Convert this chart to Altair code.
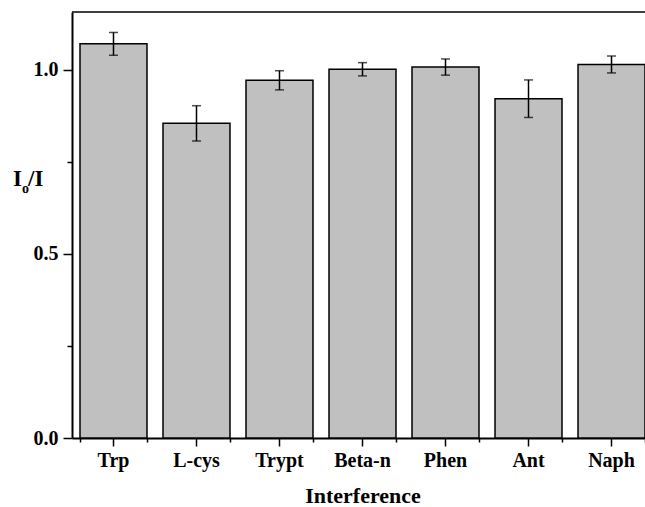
import altair as alt
import pandas as pd

# Relative intensity I0/I for each interfering species, with standard deviations
categories = ["Trp", "L-cys", "Trypt", "Beta-n", "Phen", "Ant", "Naph"]
ratios = [1.071, 0.855, 0.972, 1.002, 1.008, 0.922, 1.015]
errors = [0.031, 0.048, 0.026, 0.018, 0.022, 0.051, 0.023]

df = pd.DataFrame({"cat": categories, "ratio": ratios, "err": errors})
df["lo"] = df["ratio"] - df["err"]
df["hi"] = df["ratio"] + df["err"]

FONT = "Liberation Serif"
W, H = 573, 426

x_scale = alt.Scale(domain=categories, range=[0, 581], paddingInner=0.193, paddingOuter=0.0964)
y_scale = alt.Scale(domain=[0, 1.1576], nice=False, zero=True)

minor = "datum.value == 0.25 || datum.value == 0.75"

x_axis = alt.Axis(
    orient="bottom", title="Interference", labelAngle=0, labelFont=FONT, labelFontSize=20,
    labelFontWeight="bold", labelColor="black", labelPadding=4, titleFont=FONT,
    titleFontSize=22, titleFontWeight="bold", titleColor="black", titlePadding=15,
    domainColor="black", domainWidth=2, tickColor="black", tickWidth=1.5, tickSize=8,
    grid=False,
)
y_axis = alt.Axis(
    values=[0, 0.25, 0.5, 0.75, 1.0], title=None,
    labelExpr=f"{minor} ? '' : format(datum.value, '.1f')",
    labelFont=FONT, labelFontSize=20, labelFontWeight="bold", labelColor="black",
    labelPadding=5, domainColor="black", domainWidth=2, tickColor="black", tickWidth=1.5,
    tickSize={"condition": {"test": minor, "value": 5}, "value": 9}, grid=False,
)

base = alt.Chart(df)

bars = base.mark_bar(fill="#c0c0c0", stroke="black", strokeWidth=1.5).encode(
    x=alt.X("cat:N", scale=x_scale, axis=x_axis, sort=categories),
    y=alt.Y("ratio:Q", scale=y_scale, axis=y_axis),
)

# short ticks at the band boundaries
edge_ticks = base.mark_bar(opacity=0).encode(
    x=alt.X("cat:N", scale=x_scale, sort=categories,
            axis=alt.Axis(orient="bottom", tickBand="extent", labels=False, domain=False,
                          title=None, tickColor="black", tickWidth=1.5, tickSize=4, grid=False)),
    y=alt.Y("ratio:Q", scale=y_scale),
)

whisk = base.mark_rule(color="black", strokeWidth=1.5).encode(
    x=alt.X("cat:N", scale=x_scale, sort=categories, axis=None),
    y=alt.Y("lo:Q", scale=y_scale),
    y2="hi:Q",
)
cap_hi = base.mark_tick(color="black", thickness=1.5, size=9, orient="horizontal").encode(
    x=alt.X("cat:N", scale=x_scale, sort=categories, axis=None),
    y=alt.Y("hi:Q", scale=y_scale),
)
cap_lo = base.mark_tick(color="black", thickness=1.5, size=9, orient="horizontal").encode(
    x=alt.X("cat:N", scale=x_scale, sort=categories, axis=None),
    y=alt.Y("lo:Q", scale=y_scale),
)

# top frame line
frame_top = alt.Chart(pd.DataFrame({"a": [0]})).mark_rule(color="black", strokeWidth=1.5).encode(
    x=alt.value(0), x2=alt.value(W), y=alt.value(0)
)

# y title I0/I with subscript o
tdf = pd.DataFrame({"a": [0]})
t_I = alt.Chart(tdf).mark_text(text="I", font=FONT, fontSize=23, fontWeight="bold",
                               align="left", baseline="alphabetic", color="black").encode(
    x=alt.value(-59), y=alt.value(174))
t_o = alt.Chart(tdf).mark_text(text="o", font=FONT, fontSize=14, fontWeight="bold",
                               align="left", baseline="alphabetic", color="black").encode(
    x=alt.value(-50), y=alt.value(181))
t_rest = alt.Chart(tdf).mark_text(text="/I", font=FONT, fontSize=23, fontWeight="bold",
                                  align="left", baseline="alphabetic", color="black").encode(
    x=alt.value(-44), y=alt.value(174))

chart = alt.layer(
    bars, edge_ticks, whisk, cap_hi, cap_lo, frame_top, t_I, t_o, t_rest
).resolve_axis(x="independent").properties(
    width=W, height=H,
    autosize=alt.AutoSizeParams(type="none"),
    padding={"left": 72, "top": 12, "right": 0, "bottom": 69},
    background="white",
).configure_view(stroke=None)

chart.save("out.html", embed_options={"renderer": "svg", "actions": False})
